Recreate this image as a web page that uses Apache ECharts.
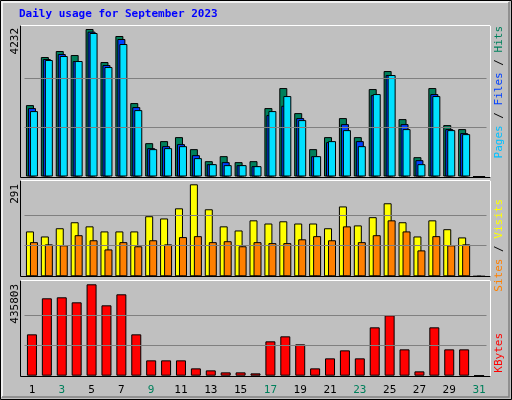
<!DOCTYPE html>
<html>
<head>
<meta charset="utf-8">
<script src="https://cdn.jsdelivr.net/npm/echarts@6/dist/echarts.min.js"></script>
<style>
  html, body { margin: 0; padding: 0; background: #c0c0c0; }
  #chart { width: 512px; height: 400px; }
</style>
</head>
<body>
<div id="chart"></div>
<script>
var days = [];
for (var d = 1; d <= 31; d++) days.push(String(d));
var weekendDays = [2, 3, 9, 10, 16, 17, 23, 24, 30, 31];

var hits = [2049, 3428, 3600, 3485, 4232, 3284, 4031, 2107, 957, 1015, 1130, 785, 440, 584, 412, 440,
  1963, 2537, 1819, 785, 1130, 1676, 1130, 2509, 3026, 1647, 555, 2537, 1475, 1360, 0];
var files = [1963, 3370, 3514, 3313, 4156, 3198, 3945, 1992, 814, 871, 929, 613, 354, 412, 326, 297,
  1762, 2030, 1676, 584, 986, 1503, 1015, 2336, 2911, 1503, 469, 2365, 1360, 1245, 0];
var pages = [1877, 3342, 3457, 3313, 4117, 3141, 3801, 1905, 785, 814, 871, 527, 354, 326, 326, 297,
  1877, 2308, 1618, 584, 1015, 1331, 871, 2365, 2911, 1360, 354, 2308, 1331, 1216, 0];
var visits = [142, 126, 152, 171, 158, 142, 142, 142, 190, 183, 215, 291, 212, 158, 145, 177,
  167, 174, 167, 167, 152, 221, 161, 187, 231, 171, 126, 177, 149, 123, 0];
var sites = [108, 101, 98, 130, 114, 85, 108, 95, 114, 101, 124, 127, 108, 111, 95, 108,
  105, 105, 117, 127, 114, 158, 108, 130, 177, 142, 82, 127, 98, 101, 0];
var kbytes = [197222, 369000, 373767, 349910, 435803, 335600, 388082, 197222, 73163, 73163, 73163,
  34991, 25448, 15905, 15905, 11134, 163822, 187679, 149507, 34991, 82706, 120878, 82706, 230622,
  287881, 125650, 20677, 230622, 125650, 125650, 0];

var maxHits = 4232, maxVisits = 291, maxKbytes = 435803;
var mono = '"DejaVu Sans Mono", monospace';

var chart = echarts.init(document.getElementById('chart'));

function grid(top, height) {
  return { left: 24.5, width: 462, top: top, height: height };
}
function xAxis(idx, showLabels) {
  return {
    type: 'category', gridIndex: idx, data: days,
    axisLine: { show: false }, axisTick: { show: false },
    axisLabel: {
      show: showLabels, margin: 9, fontFamily: mono, fontSize: 11,
      color: function (v) { return weekendDays.indexOf(+v) >= 0 ? '#00805c' : '#000'; }
    }
  };
}
function yAxis(idx, max) {
  return { type: 'value', gridIndex: idx, min: 0, max: max, show: false };
}
function guide(max) {
  return {
    silent: true, symbol: 'none', label: { show: false },
    lineStyle: { color: '#808080', type: 'solid', width: 1 },
    data: [{ yAxis: max / 3 }, { yAxis: max * 2 / 3 }]
  };
}
function bar(name, data, color, idx, width, gap, extra) {
  var s = {
    name: name, type: 'bar', data: data, xAxisIndex: idx, yAxisIndex: idx,
    barWidth: width, barGap: gap, animation: false, silent: true,
    itemStyle: { color: color, borderColor: '#000', borderWidth: 1 }
  };
  if (extra) s.markLine = extra;
  return s;
}

function frame(x, y, w, h) {
  return [
    { type: 'rect', shape: { x: x, y: y, width: w, height: h }, style: { fill: null, stroke: '#000', lineWidth: 1 }, z: 100 },
    { type: 'line', shape: { x1: x, y1: y, x2: x + w, y2: y }, style: { stroke: '#fff', lineWidth: 1 }, z: 101 },
    { type: 'line', shape: { x1: x + w, y1: y, x2: x + w, y2: y + h }, style: { stroke: '#fff', lineWidth: 1 }, z: 101 }
  ];
}
function vtext(x, y, text, rich, size) {
  return {
    type: 'text', x: x, y: y, rotation: Math.PI / 2, z: 102,
    style: { text: text, rich: rich, fontFamily: mono, fontSize: size || 11, align: 'right', verticalAlign: 'middle' }
  };
}

var graphics = [
  { type: 'rect', shape: { x: 0.5, y: 0.5, width: 511, height: 399 }, style: { fill: null, stroke: '#000', lineWidth: 1 }, z: 90 },
  { type: 'polyline', shape: { points: [[2, 397], [2, 2], [509, 2]] }, style: { stroke: '#fff', lineWidth: 1.5, fill: null }, z: 90 },
  { type: 'polyline', shape: { points: [[509, 2], [509, 397], [2, 397]] }, style: { stroke: '#808080', lineWidth: 1.5, fill: null }, z: 90 },
  { type: 'text', x: 19, y: 9, z: 102, style: { text: 'Daily usage for September 2023', fill: '#0000ff', fontFamily: mono, fontSize: 11, fontWeight: 'bold' } },
  vtext(15, 28, '4232', null, 11),
  vtext(15, 184, '291', null, 11),
  vtext(15, 284, '435803', null, 11),
  vtext(499, 26, '{p|Pages} / {f|Files} / {h|Hits}', {
    p: { fill: '#00c0ff', fontFamily: mono, fontSize: 11 },
    f: { fill: '#0040ff', fontFamily: mono, fontSize: 11 },
    h: { fill: '#00805c', fontFamily: mono, fontSize: 11 }
  }),
  vtext(499, 199, '{s|Sites} / {v|Visits}', {
    s: { fill: '#ff8000', fontFamily: mono, fontSize: 11 },
    v: { fill: '#ffff00', fontFamily: mono, fontSize: 11 }
  }),
  vtext(499, 333, '{k|KBytes}', { k: { fill: '#ff0000', fontFamily: mono, fontSize: 11 } })
];
graphics = graphics.concat(frame(20.5, 25.5, 470, 152), frame(20.5, 180.5, 470, 96), frame(20.5, 280.5, 470, 96));
graphics[5].style.fill = '#000';
graphics[6].style.fill = '#000';
graphics[7].style.fill = '#000';

chart.setOption({
  backgroundColor: '#c0c0c0',
  grid: [grid(29, 147.5), grid(184.3, 92), grid(284.3, 91.4)],
  xAxis: [xAxis(0, false), xAxis(1, false), xAxis(2, true)],
  yAxis: [yAxis(0, maxHits), yAxis(1, maxVisits), yAxis(2, maxKbytes)],
  series: [
    bar('Hits', hits, '#00805c', 0, 8, '-75%', guide(maxHits)),
    bar('Files', files, '#0040ff', 0, 8, '-75%'),
    bar('Pages', pages, '#00e0ff', 0, 8, '-75%'),
    bar('Visits', visits, '#ffff00', 1, 8, '-50%', guide(maxVisits)),
    bar('Sites', sites, '#ff8000', 1, 8, '-50%'),
    bar('KBytes', kbytes, '#ff0000', 2, 10, '0%', guide(maxKbytes))
  ],
  graphic: graphics
});
</script>
</body>
</html>
